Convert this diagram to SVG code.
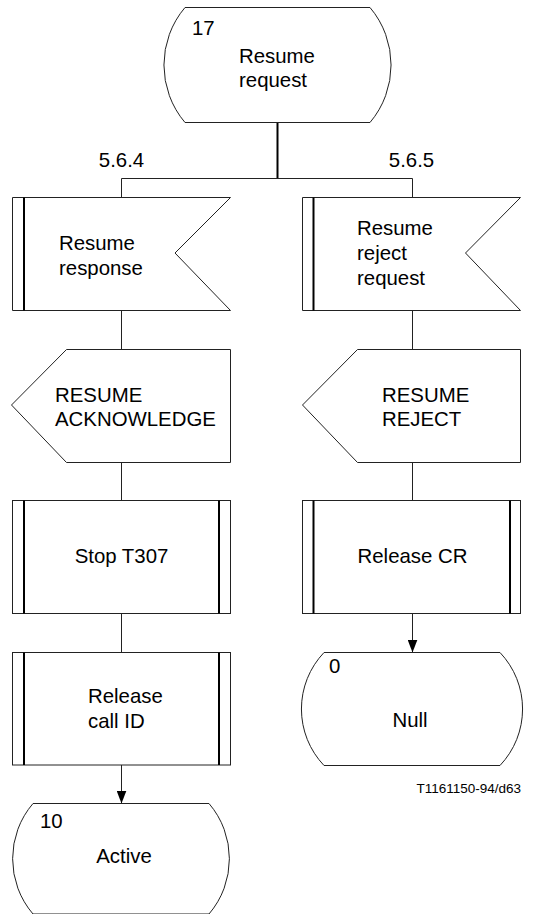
<svg xmlns="http://www.w3.org/2000/svg" width="545" height="914" viewBox="0 0 545 914">
<style>
  .sh { fill: #fff; stroke: #222; stroke-width: 1; }
  .thick { stroke: #000; stroke-width: 2; fill: none; }
  .ln { stroke: #222; stroke-width: 1; fill: none; }
  .t { font-family: "Liberation Sans", Arial, sans-serif; font-size: 20.4px; fill: #000; }
  .m { text-anchor: middle; }
  .s { font-size: 13.5px; }
</style>
<defs>
  <marker id="ah" markerWidth="13" markerHeight="10" refX="13" refY="5" orient="auto" markerUnits="userSpaceOnUse" viewBox="0 0 13 10">
    <path d="M0,0 L13,5 L0,10 Z" fill="#000"/>
  </marker>
</defs>
<rect width="545" height="914" fill="#fff"/>

<g id="connectors">
  <line class="thick" x1="277.5" y1="122" x2="277.5" y2="178.5"/>
  <line class="ln" x1="121.5" y1="178.5" x2="412.5" y2="178.5"/>
  <line class="ln" x1="121.5" y1="178.5" x2="121.5" y2="197"/>
  <line class="ln" x1="412.5" y1="178.5" x2="412.5" y2="197"/>
  <line class="ln" x1="121.5" y1="310" x2="121.5" y2="349"/>
  <line class="ln" x1="412.5" y1="310" x2="412.5" y2="349"/>
  <line class="ln" x1="121.5" y1="462" x2="121.5" y2="500"/>
  <line class="ln" x1="412.5" y1="462" x2="412.5" y2="500"/>
  <line class="ln" x1="121.5" y1="613" x2="121.5" y2="652"/>
  <line class="ln" x1="412.5" y1="613" x2="412.5" y2="652.5" marker-end="url(#ah)"/>
  <line class="ln" x1="121.5" y1="765" x2="121.5" y2="803.5" marker-end="url(#ah)"/>
</g>

<g id="state17">
  <path class="sh" d="M185,7.5 H370 A89,89 0 0 1 370,122.5 H185 A89,89 0 0 1 185,7.5 Z"/>
  <text class="t" x="192" y="35">17</text>
  <text class="t" x="239" y="63">Resume</text>
  <text class="t" x="239" y="87">request</text>
</g>

<text class="t m" x="121.5" y="167">5.6.4</text>
<text class="t m" x="411.5" y="167">5.6.5</text>

<g id="in_resume_response">
  <polygon class="sh" points="12.5,197.5 230.5,197.5 175,253 230.5,310.5 12.5,310.5"/>
  <line class="thick" x1="24" y1="197.5" x2="24" y2="310.5"/>
  <text class="t" x="59" y="250">Resume</text>
  <text class="t" x="59" y="275">response</text>
</g>

<g id="in_resume_reject_request">
  <polygon class="sh" points="302.5,197.5 520.5,197.5 465.5,253 520.5,310.5 302.5,310.5"/>
  <line class="thick" x1="313.5" y1="197.5" x2="313.5" y2="310.5"/>
  <text class="t" x="357" y="235">Resume</text>
  <text class="t" x="357" y="260">reject</text>
  <text class="t" x="357" y="285">request</text>
</g>

<g id="out_resume_ack">
  <polygon class="sh" points="11.5,405 66.5,349.5 230.5,349.5 230.5,462.5 66.5,462.5"/>
  <text class="t" x="55" y="402">RESUME</text>
  <text class="t" x="55" y="426">ACKNOWLEDGE</text>
</g>

<g id="out_resume_reject">
  <polygon class="sh" points="302.5,405 357.5,349.5 520.5,349.5 520.5,462.5 357.5,462.5"/>
  <text class="t" x="382" y="402">RESUME</text>
  <text class="t" x="382" y="426">REJECT</text>
</g>

<g id="task_stop_t307">
  <rect class="sh" x="12.5" y="500.5" width="218" height="113"/>
  <line class="thick" x1="24" y1="500.5" x2="24" y2="613.5"/>
  <line class="thick" x1="219" y1="500.5" x2="219" y2="613.5"/>
  <text class="t m" x="121.5" y="563">Stop T307</text>
</g>

<g id="task_release_cr">
  <rect class="sh" x="302.5" y="500.5" width="218" height="113"/>
  <line class="thick" x1="313.5" y1="500.5" x2="313.5" y2="613.5"/>
  <line class="thick" x1="510" y1="500.5" x2="510" y2="613.5"/>
  <text class="t m" x="412.5" y="563">Release CR</text>
</g>

<g id="task_release_call_id">
  <rect class="sh" x="12.5" y="652.5" width="218" height="112.5"/>
  <line class="thick" x1="24" y1="652.5" x2="24" y2="765"/>
  <line class="thick" x1="219" y1="652.5" x2="219" y2="765"/>
  <text class="t" x="88" y="703">Release</text>
  <text class="t" x="88" y="728">call ID</text>
</g>

<g id="state0">
  <path class="sh" d="M324,652.5 H500 A82,82 0 0 1 500,765.5 H324 A82,82 0 0 1 324,652.5 Z"/>
  <text class="t" x="329" y="673">0</text>
  <text class="t m" x="410" y="727">Null</text>
</g>

<g id="state10">
  <path class="sh" d="M33,803.5 H209 A85,85 0 0 1 209,914 H33 A85,85 0 0 1 33,803.5 Z"/>
  <text class="t" x="40" y="828">10</text>
  <text class="t m" x="124" y="863">Active</text>
</g>

<text class="t s" x="521" y="793" text-anchor="end">T1161150-94/d63</text>
</svg>
